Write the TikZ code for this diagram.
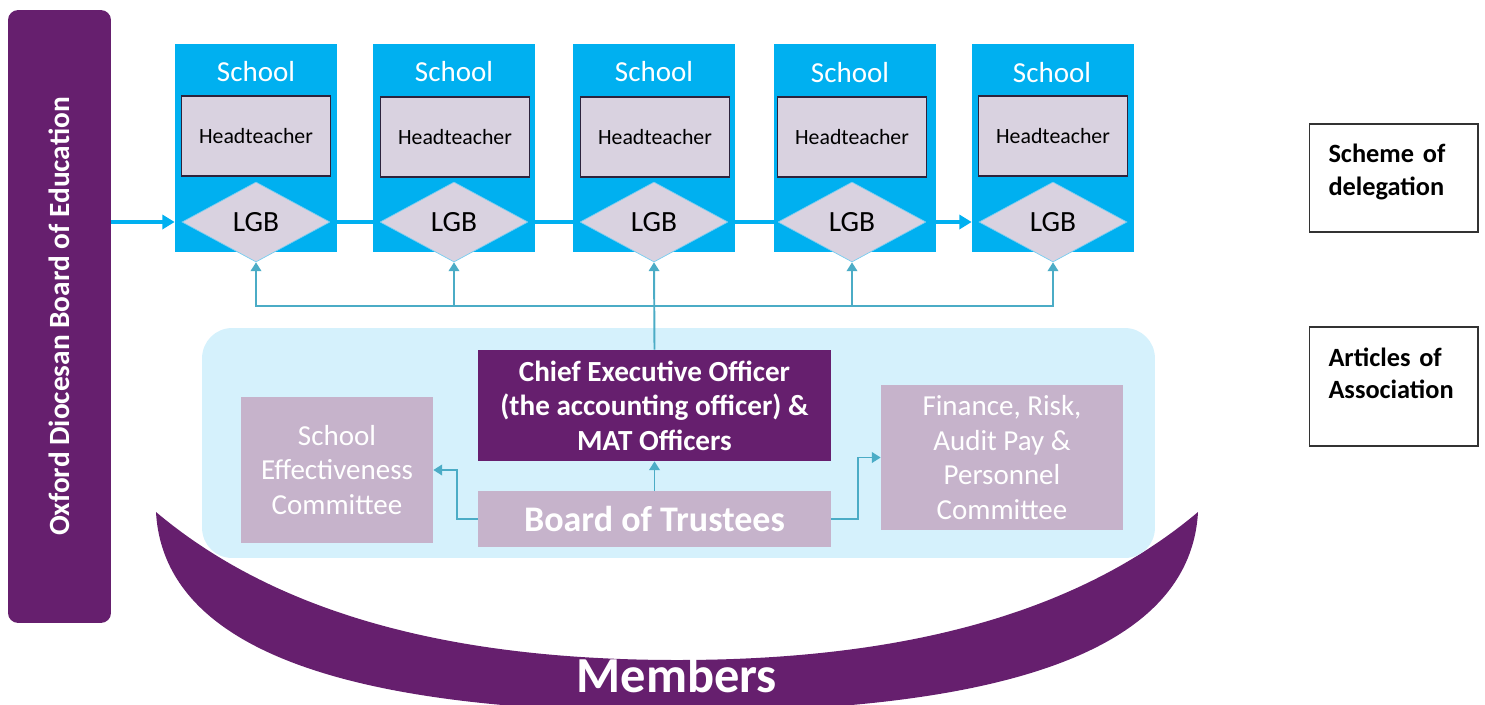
\documentclass[tikz,border=0pt]{standalone}
\usepackage{fontspec}
\setmainfont{Carlito}
\usetikzlibrary{shapes.geometric,arrows.meta}

\definecolor{odbepurple}{RGB}{102,31,110}
\definecolor{schoolblue}{RGB}{0,176,240}
\definecolor{headfill}{RGB}{217,210,224}
\definecolor{headline}{RGB}{45,35,60}
\definecolor{mauve}{RGB}{198,179,203}
\definecolor{panelblue}{RGB}{213,241,252}
\definecolor{linkteal}{RGB}{75,172,198}
\definecolor{lgbedge}{RGB}{120,205,240}

\tikzset{
  school/.style={fill=schoolblue, minimum width=3.24cm, minimum height=4.16cm, inner sep=0pt},
  schoolname/.style={text=white, font=\fontsize{16.5}{19.6}\selectfont},
  head/.style={draw=headline, fill=headfill, line width=0.9pt, minimum width=2.98cm, minimum height=1.6cm, font=\fontsize{12.4}{14}\selectfont},
  lgb/.style={diamond, draw=lgbedge, fill=headfill, minimum width=2.96cm, minimum height=1.6cm, inner sep=0pt, font=\fontsize{16.7}{19}\selectfont},
  committee/.style={fill=mauve, text=white, align=center, font=\fontsize{16.5}{19.6}\selectfont},
  note/.style={draw=black!80, line width=0.6pt, minimum width=3.38cm, align=left, text width=2.6cm, font=\bfseries\fontsize{15}{18.5}\selectfont},
  link/.style={draw=linkteal, line width=1.1pt, -{Triangle[length=5pt,width=6pt]}},
  flow/.style={draw=schoolblue, line width=2pt}
}

\begin{document}
\begin{tikzpicture}[x=0.02cm, y=-0.02cm]
    \useasboundingbox (0,0) rectangle (1485,704);

    % members
    \fill[odbepurple] (156,512) .. controls (165,675) and (420,712) .. (677,712)
        .. controls (934,712) and (1189,675) .. (1198,512)
        .. controls (1064,625) and (874,660) .. (677,660)
        .. controls (480,660) and (290,625) .. (156,512) -- cycle;
    \node[text=white, font=\bfseries\fontsize{28.7}{32}\selectfont] (members) at (677,675) {Members};

    % board of education
    \node[fill=odbepurple, rounded corners=0.2cm, minimum width=2.06cm, minimum height=12.26cm,
        label={[rotate=90, text=white, font=\bfseries\fontsize{16.7}{19}\selectfont]center:Oxford Diocesan Board of Education}] (odbe) at (59.5,316.5) {};

    % schools
    \node[school] (school1) at (256,148) {};
    \node[schoolname] (name1) at (256,72) {School};
    \node[head] (head1) at (256,136) {Headteacher};
    \node[lgb] (lgb1) at (256,222) {LGB};

    \node[school] (school2) at (454,148) {};
    \node[schoolname] (name2) at (454,72) {School};
    \node[head] (head2) at (455,137) {Headteacher};
    \node[lgb] (lgb2) at (454,222) {LGB};

    \node[school] (school3) at (654,148) {};
    \node[schoolname] (name3) at (654,72) {School};
    \node[head] (head3) at (655,137) {Headteacher};
    \node[lgb] (lgb3) at (654,222) {LGB};

    \node[school] (school4) at (855,148) {};
    \node[schoolname] (name4) at (850,73) {School};
    \node[head] (head4) at (852,137) {Headteacher};
    \node[lgb] (lgb4) at (852,222) {LGB};

    \node[school] (school5) at (1053,148) {};
    \node[schoolname] (name5) at (1052,73) {School};
    \node[head] (head5) at (1053,136) {Headteacher};
    \node[lgb] (lgb5) at (1053,222) {LGB};

    % flow between schools
    \draw[flow, -{Triangle[length=7pt,width=8pt]}] (odbe.east |- lgb1.west) -- (school1.west |- lgb1.west);
    \draw[flow] (lgb1.east) -- (lgb2.west);
    \draw[flow] (lgb2.east) -- (lgb3.west);
    \draw[flow] (lgb3.east) -- (lgb4.west);
    \draw[flow, -{Triangle[length=7pt,width=8pt]}] (lgb4.east) -- (school5.west |- lgb4.east);

    % trustees
    \node[fill=panelblue, rounded corners=0.6cm, minimum width=19.06cm, minimum height=4.6cm] (panel) at (678.5,443) {};
    \node[fill=odbepurple, text=white, align=center, minimum width=7.06cm, minimum height=2.22cm,
        font=\bfseries\fontsize{16.6}{19.6}\selectfont] (ceo) at (654.5,405.5) {Chief Executive Officer\\(the accounting officer) \&\\MAT Officers};
    \node[committee, minimum width=7.06cm, minimum height=1.12cm, font=\bfseries\fontsize{20.5}{24}\selectfont] (bot) at (654.5,519) {Board of Trustees};
    \node[committee, minimum width=3.84cm, minimum height=2.92cm] (sec) at (337,470) {School\\Effectiveness\\Committee};
    \node[committee, minimum width=4.84cm, minimum height=2.9cm] (fin) at (1002,457.5) {Finance, Risk,\\Audit Pay \&\\Personnel\\Committee};

    % links
    \coordinate (bus) at (654,306);
    \draw[link] (ceo.north) -- (lgb3.south);
    \draw[link] (bus) -| (lgb1.south);
    \draw[link] (bus) -| (lgb2.south);
    \draw[link] (bus) -| (lgb4.south);
    \draw[link] (bus) -| (lgb5.south);
    \draw[link] (bot.north) -- (ceo.south);
    \draw[link] (bot.west) -- ++(-21,0) |- (sec.east);
    \draw[link] (bot.east) -- ++(27,0) |- (fin.west);

    % documents
    \node[note, minimum height=2.16cm, text depth=0.98cm] (scheme) at (1393.5,178) {Scheme of\\delegation};
    \node[note, minimum height=2.38cm, text depth=1.18cm] (articles) at (1393.5,386.5) {Articles of\\Association};
\end{tikzpicture}
\end{document}
